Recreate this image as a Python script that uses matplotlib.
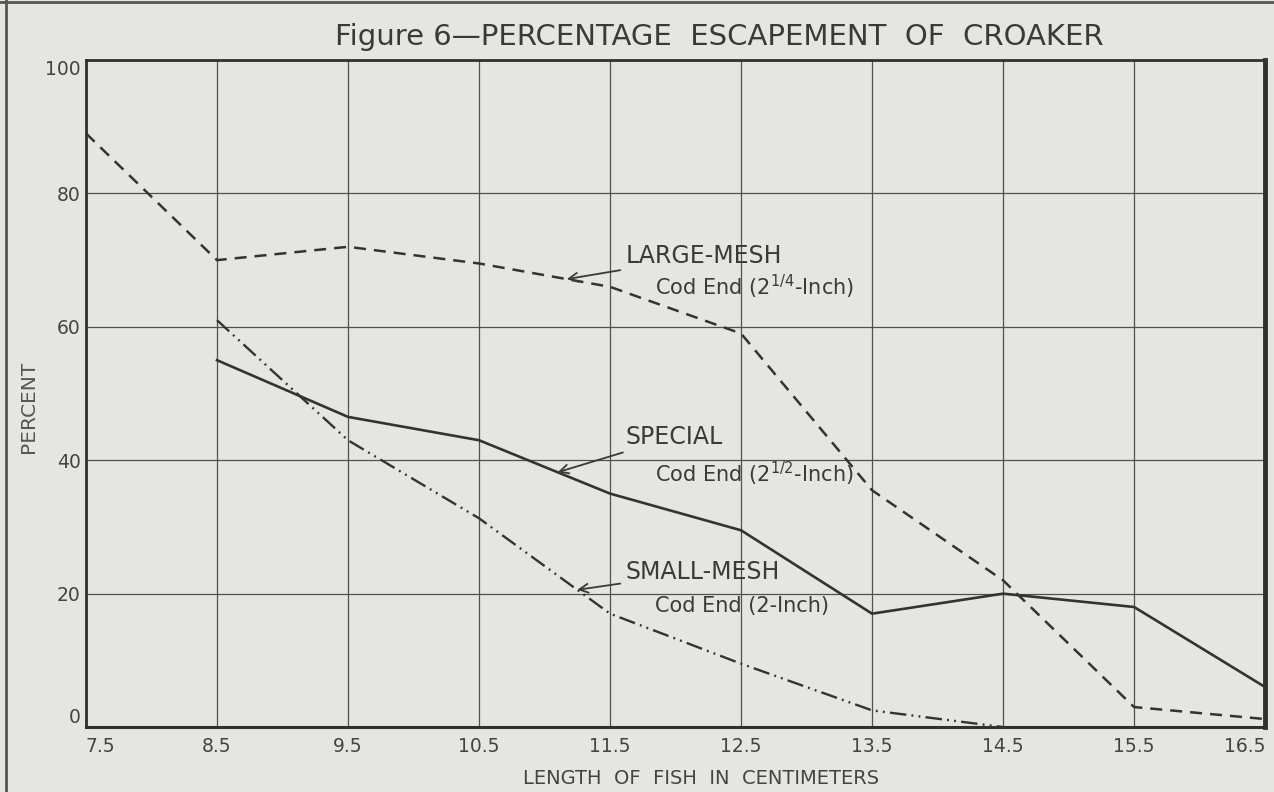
import numpy as np
from matplotlib import pyplot as plt
from matplotlib.lines import Line2D

# fish length (cm) and percent escapement
x_ticks = [7.5, 8.5, 9.5, 10.5, 11.5, 12.5, 13.5, 14.5, 15.5, 16.5]
y_ticks = [0, 20, 40, 60, 80, 100]

large_x = [7.5, 8.5, 9.5, 10.5, 11.5, 12.5, 13.5, 14.5, 15.5, 16.5]
large_y = [89, 70, 72, 69.5, 66, 59, 35.5, 22, 3, 1.2]

special_x = [8.5, 9.5, 10.5, 11.5, 12.5, 13.5, 14.5, 15.5, 16.5]
special_y = [55, 46.5, 43, 35, 29.5, 17, 20, 18, 6]

small_x = [8.5, 9.5, 10.5, 11.5, 12.5, 13.5, 14.5]
small_y = [61, 43, 31.3, 17, 9.5, 2.5, 0]

title = 'Figure 6\u2014PERCENTAGE  ESCAPEMENT  OF  CROAKER'
paper = '#e5e5e2'
ink = '#333333'

plt.rcParams['font.family'] = ['DejaVu Sans']

fig = plt.figure(figsize=(12.74, 7.92), dpi=100, facecolor=paper)
ax = fig.add_axes([0.0675, 0.082, 0.9255, 0.8422])
ax.set_facecolor(paper)

ax.plot(large_x, large_y, color=ink, lw=1.8, linestyle=(0, (4.8, 3.2)))
ax.plot(special_x, special_y, color=ink, lw=1.9, solid_joinstyle='round')
ax.plot(small_x, small_y, color=ink, lw=1.7,
        linestyle=(0, (7, 2.2, 0.8, 2.2, 0.8, 2.2)))

ax.set_xlim(x_ticks[0], x_ticks[-1])
ax.set_ylim(y_ticks[0], y_ticks[-1])
ax.set_xticks(x_ticks)
ax.set_xticklabels([f'{v:g}' for v in x_ticks])
ax.set_yticks(y_ticks)
ax.set_yticklabels([str(v) for v in y_ticks])
ax.tick_params(length=0, labelsize=13.5, labelcolor='#444444')
ax.tick_params(axis='x', pad=7)
ax.tick_params(axis='y', pad=4)
ax.get_xticklabels()[0].set_ha('left')
ax.get_xticklabels()[-1].set_ha('right')
ax.get_yticklabels()[0].set_va('bottom')
ax.get_yticklabels()[-1].set_va('top')
ax.grid(True, color='#505050', lw=0.9)

for side, lw in [('left', 2), ('bottom', 2.2), ('top', 2), ('right', 3.5)]:
    ax.spines[side].set_linewidth(lw)
    ax.spines[side].set_color('#303030')

xl = ax.set_xlabel('LENGTH  OF  FISH  IN  CENTIMETERS', fontsize=14,
                   color='#444444')
xl.set_va('center')
ax.xaxis.set_label_coords(0.522, -0.077)
ax.set_ylabel('PERCENT', fontsize=14.5, color='#555555')
ax.yaxis.set_label_coords(-0.041, 0.48)

fig.text(0.565, 0.953, title, ha='center', va='center', fontsize=21,
         color='#3a3a3a')


# curve labels with arrows pointing at each line
def label(text, sub, xs, ys, tip_x, tx, ty, sy):
    tip = (tip_x, np.interp(tip_x, xs, ys))
    ax.annotate(text, xy=tip, xytext=(tx, ty), fontsize=17, color='#3a3a3a',
                va='center', ha='left',
                arrowprops=dict(arrowstyle='->', color='#3a3a3a', lw=1.3,
                                shrinkA=2, shrinkB=0, mutation_scale=16))
    ax.text(tx + 0.22, sy, sub, fontsize=15, color='#3a3a3a',
            va='center', ha='left')


label('LARGE-MESH', 'Cod End (2$^{\\mathregular{1/4}}$-Inch)',
      large_x, large_y, 11.17, 11.62, 70.6, 66.0)
label('SPECIAL', 'Cod End (2$^{\\mathregular{1/2}}$-Inch)',
      special_x, special_y, 11.1, 11.62, 43.5, 38.0)
label('SMALL-MESH', 'Cod End (2-Inch)',
      small_x, small_y, 11.25, 11.62, 23.3, 18.2)

# edges of the scanned page
fig.add_artist(Line2D([0.005, 0.005], [0, 1], transform=fig.transFigure,
                      color='#555555', lw=2))
fig.add_artist(Line2D([0, 1], [0.997, 0.997], transform=fig.transFigure,
                      color='#555555', lw=2))

fig.savefig('out.png', dpi=100, facecolor=paper)
